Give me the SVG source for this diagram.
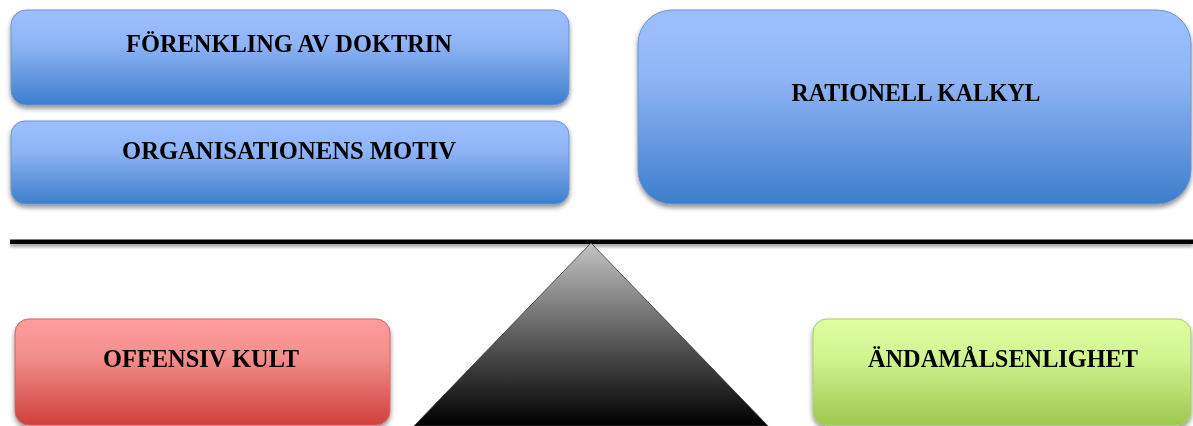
<svg xmlns="http://www.w3.org/2000/svg" width="1193" height="426" viewBox="0 0 1193 426">
<defs>
<linearGradient id="gBlue" x1="0" y1="0" x2="0" y2="1">
<stop offset="0" stop-color="#9cc0ff"/>
<stop offset="0.35" stop-color="#90b5f6"/>
<stop offset="1" stop-color="#3d7ecc"/>
</linearGradient>
<linearGradient id="gRed" x1="0" y1="0" x2="0" y2="1">
<stop offset="0" stop-color="#ff9c9c"/>
<stop offset="0.35" stop-color="#f38f8d"/>
<stop offset="1" stop-color="#d0403c"/>
</linearGradient>
<linearGradient id="gGreen" x1="0" y1="0" x2="0" y2="1">
<stop offset="0" stop-color="#ddff9f"/>
<stop offset="0.35" stop-color="#d2f592"/>
<stop offset="1" stop-color="#9fc74e"/>
</linearGradient>
<linearGradient id="gTri" x1="0" y1="0" x2="0" y2="1">
<stop offset="0" stop-color="#c4c4c4"/>
<stop offset="0.55" stop-color="#555"/>
<stop offset="1" stop-color="#000"/>
</linearGradient>
<filter id="sh" x="-5%" y="-10%" width="110%" height="130%">
<feGaussianBlur in="SourceAlpha" stdDeviation="2.5"/>
<feOffset dx="0" dy="3" result="b"/>
<feComponentTransfer><feFuncA type="linear" slope="0.45"/></feComponentTransfer>
<feMerge><feMergeNode/><feMergeNode in="SourceGraphic"/></feMerge>
</filter>
<filter id="shL" filterUnits="userSpaceOnUse" x="0" y="230" width="1193" height="30">
<feGaussianBlur in="SourceAlpha" stdDeviation="1.5"/>
<feOffset dx="0" dy="3" result="b"/>
<feComponentTransfer><feFuncA type="linear" slope="0.35"/></feComponentTransfer>
<feMerge><feMergeNode/><feMergeNode in="SourceGraphic"/></feMerge>
</filter>
</defs>
<style>
.lbl{font-family:"Liberation Serif","DejaVu Serif",serif;font-weight:bold;font-size:25px;fill:#000;text-anchor:middle}
.blue{fill:url(#gBlue);stroke:#6c93d0;stroke-width:1}
.red{fill:url(#gRed);stroke:#c66;stroke-width:1}
.green{fill:url(#gGreen);stroke:#a8cc70;stroke-width:1}
</style>
<rect width="1193" height="426" fill="#fff"/>
<g id="connectors">
<rect x="10" y="239.5" width="1183" height="4.5" fill="#000" filter="url(#shL)"/>
<polygon id="fulcrum" points="591,243 768,426 414,426" fill="url(#gTri)" stroke="#333" stroke-width="0.8"/>
</g>
<g id="n1" filter="url(#sh)">
<rect class="blue" x="11" y="10" width="558" height="95" rx="15"/>
<text class="lbl" x="289" y="52" textLength="326" lengthAdjust="spacingAndGlyphs">FÖRENKLING AV DOKTRIN</text>
</g>
<g id="n2" filter="url(#sh)">
<rect class="blue" x="11" y="121" width="558" height="83" rx="14"/>
<text class="lbl" x="289" y="159" textLength="334" lengthAdjust="spacingAndGlyphs">ORGANISATIONENS MOTIV</text>
</g>
<g id="n3" filter="url(#sh)">
<rect class="blue" x="638" y="10" width="553" height="194" rx="34"/>
<text class="lbl" x="916" y="101" textLength="249" lengthAdjust="spacingAndGlyphs">RATIONELL KALKYL</text>
</g>
<g id="n4" filter="url(#sh)">
<rect class="red" x="15" y="319" width="375" height="106" rx="14"/>
<text class="lbl" x="201" y="367" textLength="196" lengthAdjust="spacingAndGlyphs">OFFENSIV KULT</text>
</g>
<g id="n5" filter="url(#sh)">
<rect class="green" x="813" y="319" width="378" height="106" rx="14"/>
<text class="lbl" x="1003" y="367" textLength="270" lengthAdjust="spacingAndGlyphs">ÄNDAMÅLSENLIGHET</text>
</g>
</svg>
